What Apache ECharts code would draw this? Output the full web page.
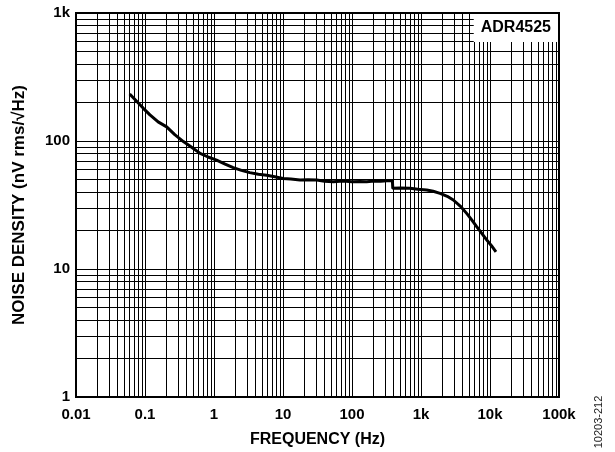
<!DOCTYPE html>
<html>
<head>
<meta charset="UTF-8">
<title>ADR4525 noise density</title>
<script src="https://cdn.jsdelivr.net/npm/echarts@6/dist/echarts.min.js"></script>
<style>
  html, body { margin: 0; padding: 0; background: #fff; }
  #chart { width: 615px; height: 452px; }
</style>
</head>
<body>
<div id="chart"></div>
<script>
// values
const frequency = [0.06, 0.0946, 0.118, 0.155, 0.206, 0.27, 0.36, 0.48, 0.63, 0.82, 1.09, 1.45, 1.9, 2.5, 3.3, 4.4, 5.8, 7.6, 10, 13, 17.6, 23, 30.8, 40, 53.6, 75, 100, 130, 163, 210, 260, 320, 385, 390, 500, 693, 900, 1210, 1500, 1890, 2400, 2940, 3700, 4590, 5400, 6410, 7600, 8950, 10500, 12200]
const density = [233, 180, 160, 141, 129, 112, 99, 89, 80, 75, 71, 66, 62, 59, 56.6, 55, 54, 52.5, 51, 50.5, 49.5, 49.8, 49.5, 48.5, 48, 48.6, 48, 48.3, 48, 48.6, 48.5, 49, 49, 42.7, 43, 42.7, 42, 41.4, 40.5, 39, 37, 34.6, 31, 27.2, 24.3, 21.4, 19, 16.9, 15.2, 13.6]

const xTickLabels = ['0.01', '0.1', '1', '10', '100', '1k', '10k', '100k']
const yTickLabels = ['1', '10', '100', '1k']
const xDecades = [0.01, 0.1, 1, 10, 100, 1000, 10000]
const yDecades = [1, 10, 100]
const minorSteps = [2, 3, 4, 5, 6, 7, 8, 9]

const FONT = '"Liberation Sans", Arial, sans-serif'

// minor grid lines of log paper (2..9 in every decade)
let gridLines = []
xDecades.forEach(function (d) {
	minorSteps.forEach(function (k) { gridLines.push({ xAxis: k * d }) })
})
yDecades.forEach(function (d) {
	minorSteps.forEach(function (k) { gridLines.push({ yAxis: k * d }) })
})

const curve = frequency.map(function (f, i) { return [f, density[i]] })

const chart = echarts.init(document.getElementById('chart'), null, { renderer: 'canvas' })
chart.setOption({
	animation: false,
	backgroundColor: '#fff',
	textStyle: { fontFamily: FONT },
	title: {
		text: 'ADR4525',
		right: 57,
		top: 14,
		padding: [6, 7, 6, 7],
		backgroundColor: '#fff',
		z: 10,
		textStyle: { fontFamily: FONT, fontSize: 16, fontWeight: 'bold', color: '#000' }
	},
	grid: {
		left: 76, right: 56, top: 13, bottom: 55,
		show: true, borderColor: '#000', borderWidth: 2,
		outerBoundsMode: 'none'
	},
	xAxis: {
		type: 'log',
		logBase: 10,
		min: 0.01,
		max: 100000,
		splitNumber: 7,
		name: 'FREQUENCY (Hz)',
		nameLocation: 'middle',
		nameGap: 35,
		nameTextStyle: { fontFamily: FONT, fontSize: 16, fontWeight: 'bold', color: '#000' },
		axisLine: { show: false },
		axisTick: { show: false },
		axisLabel: {
			margin: 10,
			fontFamily: FONT, fontSize: 15, fontWeight: 'bold', color: '#000',
			formatter: function (v) { return xTickLabels[Math.round(Math.log10(v)) + 2] }
		},
		splitLine: { show: true, lineStyle: { color: '#000', width: 1 } }
	},
	yAxis: {
		type: 'log',
		logBase: 10,
		min: 1,
		max: 1000,
		splitNumber: 3,
		name: 'NOISE DENSITY (nV rms/√Hz)',
		nameLocation: 'middle',
		nameGap: 48,
		nameTextStyle: { fontFamily: FONT, fontSize: 17, fontWeight: 'bold', color: '#000' },
		axisLine: { show: false },
		axisTick: { show: false },
		axisLabel: {
			margin: 6,
			fontFamily: FONT, fontSize: 15, fontWeight: 'bold', color: '#000',
			formatter: function (v) { return yTickLabels[Math.round(Math.log10(v))] }
		},
		splitLine: { show: true, lineStyle: { color: '#000', width: 1 } }
	},
	graphic: [{
		type: 'text',
		x: 599,
		y: 422,
		rotation: Math.PI / 2,
		style: {
			text: '10203-212',
			font: '11px ' + FONT,
			fill: '#222',
			align: 'center',
			verticalAlign: 'middle'
		}
	}],
	series: [{
		// carrier of the minor grid
		type: 'line',
		data: curve,
		z: 1,
		silent: true,
		showSymbol: false,
		lineStyle: { opacity: 0 },
		markLine: {
			silent: true,
			animation: false,
			symbol: ['none', 'none'],
			label: { show: false },
			emphasis: { disabled: true },
			lineStyle: { color: '#000', width: 1, type: 'solid' },
			data: gridLines
		}
	}, {
		name: 'ADR4525',
		type: 'line',
		data: curve,
		z: 5,
		showSymbol: false,
		smooth: false,
		lineStyle: { color: '#000', width: 3 }
	}]
})
</script>
</body>
</html>
